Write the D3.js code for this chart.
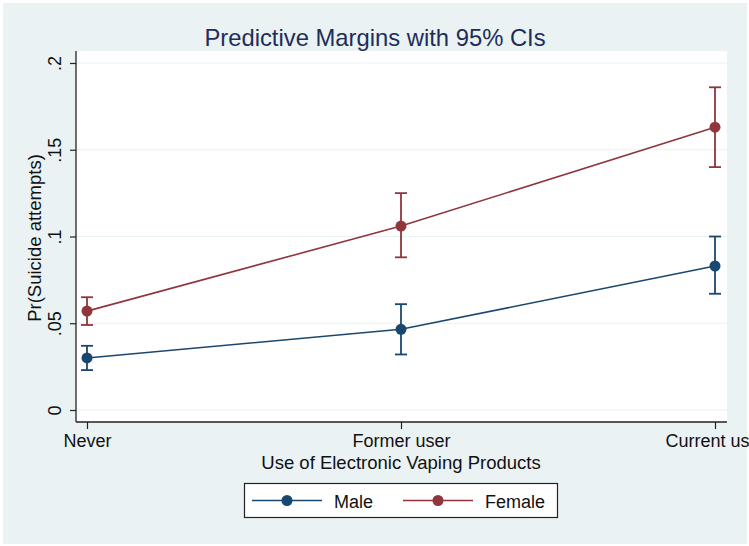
<!DOCTYPE html>
<html><head><meta charset="utf-8">
<script src="https://cdn.jsdelivr.net/npm/d3@7"></script>
<style>html,body{margin:0;padding:0;background:#fff;overflow:hidden}</style>
</head><body>
<svg id="c" width="749" height="546"></svg>
<script>
const categories = ["Never", "Former user", "Current user"];
const seriesNames = ["Male", "Female"];
const maleMargin = [0.030, 0.0465, 0.083];
const maleLower  = [0.023, 0.032, 0.067];
const maleUpper  = [0.037, 0.061, 0.100];
const femaleMargin = [0.057, 0.106, 0.163];
const femaleLower  = [0.049, 0.088, 0.140];
const femaleUpper  = [0.065, 0.125, 0.186];
const yTicks = [0, 0.05, 0.1, 0.15, 0.2];
const yTickLabels = ["0", ".05", ".1", ".15", ".2"];
const colors = ["#1a476f", "#90353b"];

const series = [
  {name: seriesNames[0], m: maleMargin, lo: maleLower, hi: maleUpper, color: colors[0]},
  {name: seriesNames[1], m: femaleMargin, lo: femaleLower, hi: femaleUpper, color: colors[1]}
];

const svg = d3.select("#c");
const font = "Liberation Sans, Arial, Helvetica, sans-serif";
const bg = "#eaf2f3";
const fs = 18;

svg.append("rect").attr("x",0).attr("y",0).attr("width",749).attr("height",546).attr("fill","#fff");
svg.append("rect").attr("x",3).attr("y",3).attr("width",744).attr("height",541).attr("fill",bg);

const L = 76, R = 727, T = 51, B = 422;
svg.append("rect").attr("x",L).attr("y",T).attr("width",R-L).attr("height",B-T).attr("fill","#fff");

const x = d3.scalePoint().domain(categories).range([87, 715]);
const y = d3.scaleLinear().domain([0, 0.2]).range([410, 63]);

// gridlines
svg.append("g").selectAll("line").data(yTicks).join("line")
  .attr("x1", L).attr("x2", R)
  .attr("y1", d => y(d)).attr("y2", d => y(d))
  .attr("stroke", bg).attr("stroke-width", 1.2);

// y axis
const yAxis = d3.axisLeft(y).tickValues(yTicks).tickFormat((d,i) => yTickLabels[i]).tickSize(6).tickPadding(0);
const gy = svg.append("g").attr("transform", `translate(${L},0)`).call(yAxis);
gy.select(".domain").attr("d", `M0,${T}V${B}`).attr("stroke","#222").attr("stroke-width",1.3);
gy.selectAll(".tick line").attr("stroke","#222").attr("stroke-width",1.2);
gy.selectAll(".tick text").attr("font-family", font).attr("font-size", fs).attr("fill","#111")
  .attr("x", null).attr("y", null).attr("dy", null)
  .attr("text-anchor","middle")
  .attr("transform", "translate(-15,0) rotate(-90)");

// x axis
const xAxis = d3.axisBottom(x).tickSize(7).tickPadding(3);
const gx = svg.append("g").attr("transform", `translate(0,${B})`).call(xAxis);
gx.select(".domain").attr("d", `M${L},0H${R}`).attr("stroke","#222").attr("stroke-width",1.3);
gx.selectAll(".tick line").attr("stroke","#222").attr("stroke-width",1.2);
gx.selectAll(".tick text").attr("font-family", font).attr("font-size", fs).attr("fill","#111").attr("dy","0.82em");

// axis titles
svg.append("text").attr("x", 401).attr("y", 469).attr("text-anchor","middle")
  .attr("font-family", font).attr("font-size", 18.5).attr("fill","#111")
  .text("Use of Electronic Vaping Products");
svg.append("text").attr("transform", "translate(41,238) rotate(-90)").attr("text-anchor","middle")
  .attr("font-family", font).attr("font-size", 18.5).attr("fill","#111")
  .text("Pr(Suicide attempts)");

// title
svg.append("text").attr("x", 375).attr("y", 46).attr("text-anchor","middle")
  .attr("font-family", font).attr("font-size", 23.8).attr("fill","#1e2d5a")
  .text("Predictive Margins with 95% CIs");

// series
const line = d3.line().x((d,i) => x(categories[i])).y(d => y(d));
series.forEach(s => {
  const g = svg.append("g");
  g.append("path").attr("d", line(s.m)).attr("fill","none").attr("stroke", s.color).attr("stroke-width", 1.6);
  categories.forEach((c,i) => {
    const cx = x(c);
    g.append("line").attr("x1",cx).attr("x2",cx).attr("y1",y(s.lo[i])).attr("y2",y(s.hi[i])).attr("stroke",s.color).attr("stroke-width",1.8);
    [s.lo[i], s.hi[i]].forEach(v => {
      g.append("line").attr("x1",cx-6).attr("x2",cx+6).attr("y1",y(v)).attr("y2",y(v)).attr("stroke",s.color).attr("stroke-width",1.8);
    });
  });
  g.selectAll("circle").data(s.m).join("circle")
    .attr("cx",(d,i)=>x(categories[i])).attr("cy",d=>y(d)).attr("r",5.5).attr("fill",s.color);
});

// legend
const lg = svg.append("g");
lg.append("rect").attr("x",244.5).attr("y",483.5).attr("width",313).attr("height",34).attr("fill","#fff").attr("stroke","#222").attr("stroke-width",1.2);
const legendItems = [{x0:252, tx:334}, {x0:403, tx:485}];
series.forEach((s,i) => {
  const it = legendItems[i];
  lg.append("line").attr("x1",it.x0).attr("x2",it.x0+70).attr("y1",500.5).attr("y2",500.5).attr("stroke",s.color).attr("stroke-width",1.6);
  lg.append("circle").attr("cx",it.x0+35).attr("cy",500.5).attr("r",5.5).attr("fill",s.color);
  lg.append("text").attr("x",it.tx).attr("y",507.5).attr("font-family",font).attr("font-size",fs).attr("fill","#111").text(s.name);
});
</script>
</body></html>
